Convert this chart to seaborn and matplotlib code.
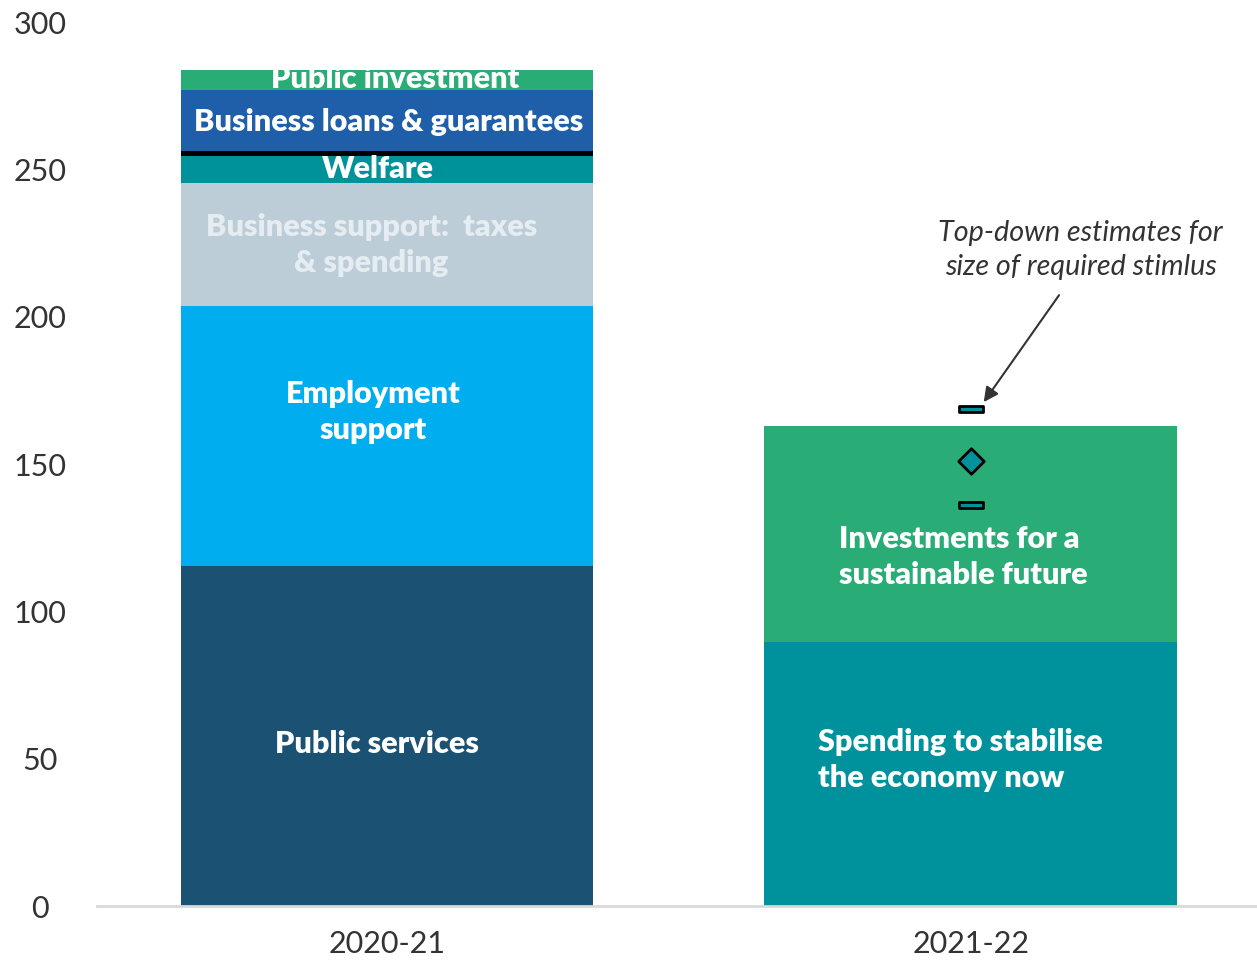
import matplotlib
matplotlib.use("Agg")
import matplotlib.pyplot as plt
from matplotlib.path import Path
import seaborn as sns
import numpy as np

# ---- data ----
years = ["2020-21", "2021-22"]

seg_2020 = ["Public services", "Employment\nsupport", "Business support:  taxes\n& spending",
            "Welfare", "", "Business loans & guarantees", "Public investment"]
vals_2020 = [115.4, 88.2, 41.7, 9.2, 1.8, 20.5, 6.8]
cols_2020 = ["#1B5173", "#00AEEF", "#BCCDD8", "#00929A", "#000000", "#1F5EA8", "#2AAC77"]

seg_2021 = ["Spending to stabilise\nthe economy now", "Investments for a\nsustainable future"]
vals_2021 = [89.6, 73.3]
cols_2021 = ["#00929C", "#2AAC77"]

est_range_2021 = [168.6, 136.0]   # high / low top-down estimates
est_central_2021 = [151.0]

sns.set_theme(style="white")
plt.rcParams["font.family"] = ["Lato", "DejaVu Sans"]

fig = plt.figure(figsize=(12.57, 9.6), dpi=100)
ax = fig.add_axes([0.077, 0.05625, 0.923, 0.92083])

W = 0.707

def stacked(year, vals, cols):
    cum = np.cumsum(vals)
    patches = {}
    for i in range(len(vals) - 1, -1, -1):
        n0 = len(ax.patches)
        sns.barplot(x=[year], y=[cum[i]], order=years, color=cols[i], saturation=1,
                    width=W, linewidth=0, ax=ax)
        patches[i] = ax.patches[n0:]
    return cum, patches

cum20, p20 = stacked(years[0], vals_2020, cols_2020)
cum21, p21 = stacked(years[1], vals_2021, cols_2021)

rect = Path([(-1, -0.28), (1, -0.28), (1, 0.28), (-1, 0.28), (-1, -0.28)],
            [Path.MOVETO, Path.LINETO, Path.LINETO, Path.LINETO, Path.CLOSEPOLY])
sns.stripplot(x=[years[1]] * len(est_range_2021), y=est_range_2021, order=years, jitter=False,
              marker=rect, size=17, color="#00929C", edgecolor="black", linewidth=2, ax=ax)
sns.stripplot(x=[years[1]], y=est_central_2021, order=years, jitter=False,
              marker="D", size=13, color="#00929C", edgecolor="black", linewidth=2, ax=ax)

# ---- labels in bars ----
lab_kw = dict(color="white", fontweight="heavy", fontsize=22, ha="center", va="center",
              linespacing=1.35)
bot20 = np.concatenate([[0], cum20[:-1]])
offs = {0: (-0.017, -2.7), 1: (-0.024, 8.0), 2: (-0.027, 0), 3: (-0.016, 0.2), 5: (0.002, -0.5), 6: (0.014, 0.6)}
for i, txt in enumerate(seg_2020):
    if not txt:
        continue
    dx, dy = offs[i]
    mid = (bot20[i] + cum20[i]) / 2
    c = "#E6EDF2" if i == 2 else "white"
    t = ax.text(0 + dx, mid + dy, txt, **{**lab_kw, "color": c})
    if i == 6:
        t.set_clip_path(p20[6][0])

ax.text(0.738, 49.5, seg_2021[0], **{**lab_kw, "ha": "left"})
ax.text(0.774, 118.4, seg_2021[1], **{**lab_kw, "ha": "left"})

ax.text(1.188, 222.6, "Top-down estimates for\nsize of required stimlus",
        fontsize=20.7, style="italic", color="#333333", ha="center", va="center",
        linespacing=1.4)
ax.annotate("", xy=(1.022, 171.0), xytext=(1.151, 207.3),
            arrowprops=dict(arrowstyle="-|>", color="#333333", lw=1.5,
                            shrinkA=0, shrinkB=0, mutation_scale=22))

ax.set_ylim(0, 300)
ax.set_xlim(-0.497, 1.49)
ax.set_yticks([0, 50, 100, 150, 200, 250, 300])
ax.tick_params(axis="y", labelsize=22, labelcolor="#333333", length=0, pad=41)
ax.tick_params(axis="x", labelsize=22, labelcolor="#333333", length=0, pad=17)
ax.set_xticks([0, 1])
ax.set_xticklabels(years)
for lab in ax.get_yticklabels():
    lab.set_horizontalalignment("center")
ax.set_xlabel("")
ax.set_ylabel("")
for s in ["top", "right", "left"]:
    ax.spines[s].set_visible(False)
ax.spines["bottom"].set_color("#D9D9D9")
ax.spines["bottom"].set_linewidth(2)

fig.savefig("out.png", dpi=100)
